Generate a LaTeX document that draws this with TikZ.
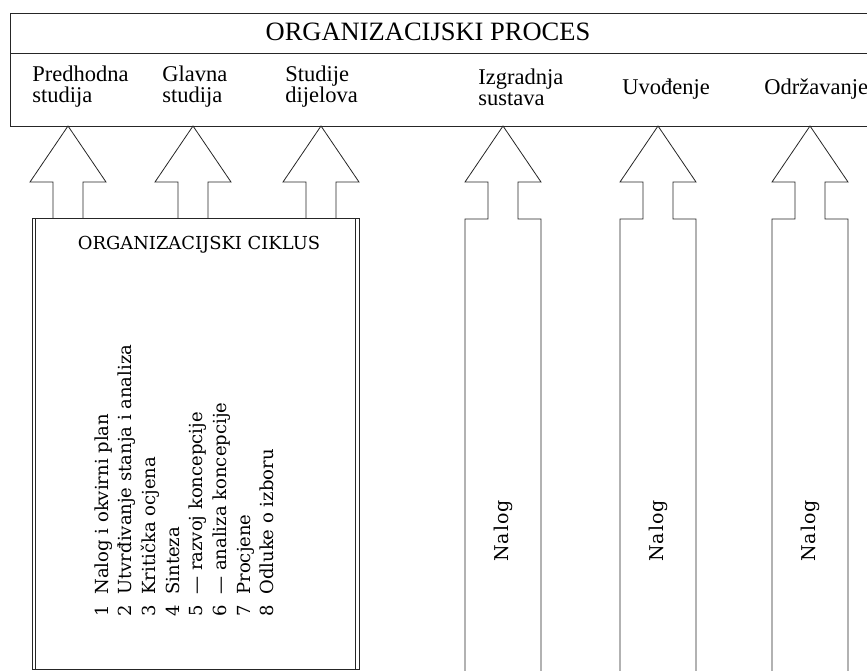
\documentclass[tikz,border=0pt]{standalone}
\usepackage{fontspec}
\setmainfont{Liberation Serif}
\newfontfamily\cyclefont{DejaVu Serif}
\newfontfamily\orderfont[LetterSpace=5]{DejaVu Serif}
\begin{document}
\begin{tikzpicture}[x=1pt,y=-1pt,line width=0.8pt,
  frame/.style={draw=black!85,line join=miter},
  phase/.style={font=\fontsize{22.5}{21}\selectfont,align=left,anchor=west,inner sep=0pt},
  cyclelist/.style={font=\cyclefont\fontsize{18}{23.7}\selectfont,align=left,rotate=90,anchor=north west,inner sep=0pt},
  order/.style={font=\orderfont\fontsize{19}{19}\selectfont,rotate=90,inner sep=0pt}]
\useasboundingbox (0,0) rectangle (867,671);

% process header
\draw[frame] (867,13) -- (10,13) -- (10,126) -- (867,126);
\draw[frame] (10,53) -- (867,53);
\node[font=\fontsize{26.5}{26.5}\selectfont,inner sep=0pt] (proc) at (428,32) {ORGANIZACIJSKI PROCES};

% phases
\node[phase] (p1) at (32,87)  {Predhodna\\studija};
\node[phase] (p2) at (162,87) {Glavna\\studija};
\node[phase] (p3) at (285,87) {Studije\\dijelova};
\node[phase] (p4) at (478,87) {Izgradnja\\sustava};
\node[phase] (p5) at (622,89) {Uvođenje};
\node[phase] (p6) at (764,89) {Održavanje};

% block arrows from the cycle box up to the header
\foreach \c/\n in {68/a1,193/a2,321/a3}{
  \coordinate (\n) at (\c,126);
  \draw[frame] (\c-15,218) -- (\c-15,182) -- (\c-38,182) -- (\n)
     -- (\c+38,182) -- (\c+15,182) -- (\c+15,218);
}

% columns with block arrows for the later phases
\foreach \c/\n in {503/a4,658/a5,810/a6}{
  \coordinate (\n) at (\c,126);
  \draw[frame] (\c-38,671) -- (\c-38,219) -- (\c-15,219) -- (\c-15,182)
     -- (\c-38,182) -- (\n) -- (\c+38,182) -- (\c+15,182) -- (\c+15,219)
     -- (\c+38,219) -- (\c+38,671);
}

% organisational cycle box
\draw[frame] (32,218) rectangle (359,669);
\draw[frame] (35,218) -- (35,669);
\draw[frame] (355,218) -- (355,669);
\node[font=\cyclefont\fontsize{17.9}{17.9}\selectfont,inner sep=0pt] (cycle) at (199,245) {ORGANIZACIJSKI CIKLUS};

\node[cyclelist] (steps) at (94,617) {%
\makebox[22pt][l]{1}Nalog i okvirni plan\\
\makebox[22pt][l]{2}Utvrđivanje stanja i analiza\\
\makebox[22pt][l]{3}Kritička ocjena\\
\makebox[22pt][l]{4}Sinteza\\
\makebox[22pt][l]{5}— razvoj koncepcije\\
\makebox[22pt][l]{6}— analiza koncepcije\\
\makebox[22pt][l]{7}Procjene\\
\makebox[22pt][l]{8}Odluke o izboru};

% orders in the columns
\node[order] (n4) at (503,531) {Nalog};
\node[order] (n5) at (658,531) {Nalog};
\node[order] (n6) at (810,531) {Nalog};
\end{tikzpicture}
\end{document}
